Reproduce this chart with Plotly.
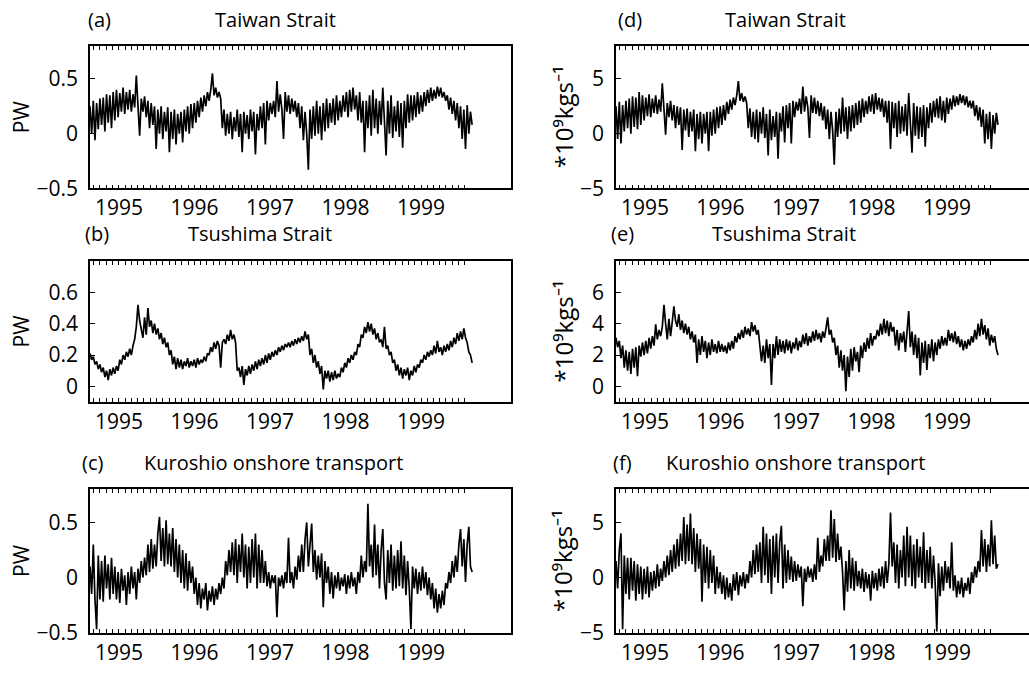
import pandas as pd
import plotly.graph_objects as go

# ---- transports, sampled every 8 days (8 samples per source line) ----
dates = pd.date_range("1994-08-14", periods=232, freq="8D")

# Heat transport, PW
taiwan_heat = [
    0.25, 0.0, 0.3, -0.06, 0.28, 0.04, 0.32, 0.08,
    0.33, 0.02, 0.36, 0.1, 0.35, 0.05, 0.38, 0.12,
    0.4, 0.15, 0.37, 0.2, 0.42, 0.18, 0.38, 0.22,
    0.4, 0.2, 0.36, 0.24, 0.53, 0.25, -0.02, 0.32,
    0.2, 0.34, 0.15, 0.3, 0.05, 0.28, 0.08, 0.25,
    -0.14, 0.22, 0.0, 0.25, -0.05, 0.2, 0.02, 0.24,
    -0.17, 0.2, -0.05, 0.22, -0.1, 0.18, 0.0, 0.2,
    -0.08, 0.22, 0.02, 0.25, 0.0, 0.27, 0.05, 0.28,
    0.1, 0.3, 0.15, 0.33, 0.2, 0.35, 0.25, 0.38,
    0.3, 0.4, 0.55, 0.35, 0.42, 0.33, 0.38, 0.32,
    0.05, 0.22, -0.02, 0.18, 0.0, 0.2, -0.05, 0.15,
    0.02, 0.22, -0.03, 0.18, -0.17, 0.2, 0.0, 0.17,
    -0.05, 0.22, 0.02, 0.2, -0.19, 0.18, 0.03, 0.25,
    0.05, 0.28, -0.1, 0.3, 0.12, 0.28, 0.18, 0.3,
    0.15, 0.48, 0.2, 0.36, 0.22, -0.05, 0.38, 0.2,
    0.35, 0.18, 0.32, 0.2, 0.3, 0.15, 0.28, 0.05,
    0.25, -0.06, 0.2, 0.0, -0.33, 0.22, -0.05, 0.25,
    -0.02, 0.3, 0.0, 0.25, -0.06, 0.28, 0.02, 0.32,
    0.05, 0.28, 0.1, 0.32, 0.08, 0.35, 0.12, 0.3,
    0.15, 0.35, 0.2, 0.38, 0.15, 0.4, 0.2, 0.42,
    0.22, 0.35, 0.12, 0.38, 0.1, 0.3, -0.17, 0.3,
    0.05, 0.35, -0.02, 0.4, 0.05, 0.32, 0.0, 0.3,
    0.08, 0.42, 0.15, -0.2, 0.3, 0.0, 0.35, -0.04,
    0.25, 0.02, 0.3, -0.03, 0.28, -0.13, 0.3, 0.05,
    0.36, 0.1, 0.35, 0.12, 0.35, 0.15, 0.38, 0.18,
    0.35, 0.2, 0.38, 0.25, 0.4, 0.28, 0.42, 0.3,
    0.4, 0.32, 0.43, 0.34, 0.42, 0.33, 0.38, 0.3,
    0.35, 0.22, 0.33, 0.18, 0.3, 0.12, 0.28, 0.05,
    0.25, -0.05, 0.22, -0.14, 0.26, 0.0, 0.2, 0.08,
]

tsushima_heat = [
    0.21, 0.17, 0.19, 0.14, 0.16, 0.11, 0.14, 0.09,
    0.12, 0.06, 0.1, 0.04, 0.11, 0.07, 0.12, 0.08,
    0.13, 0.1, 0.17, 0.14, 0.2, 0.17, 0.22, 0.19,
    0.24, 0.2, 0.26, 0.3, 0.38, 0.52, 0.42, 0.36,
    0.31, 0.44, 0.33, 0.5, 0.38, 0.42, 0.34, 0.4,
    0.33, 0.37, 0.3, 0.34, 0.27, 0.31, 0.25, 0.28,
    0.2, 0.23, 0.14, 0.19, 0.11, 0.18, 0.12, 0.17,
    0.11, 0.16, 0.13, 0.18, 0.12, 0.16, 0.13, 0.17,
    0.12, 0.18, 0.14, 0.17, 0.15, 0.19, 0.16, 0.21,
    0.2, 0.25, 0.22, 0.28, 0.24, 0.29, 0.26, 0.12,
    0.28, 0.3, 0.27, 0.33, 0.29, 0.36, 0.3, 0.33,
    0.28, 0.1, 0.12, 0.06, 0.13, 0.01, 0.11, 0.07,
    0.13, 0.08, 0.14, 0.1, 0.16, 0.11, 0.17, 0.13,
    0.18, 0.14, 0.2, 0.15, 0.21, 0.17, 0.22, 0.19,
    0.23, 0.2, 0.25, 0.22, 0.26, 0.23, 0.27, 0.25,
    0.28, 0.25, 0.29, 0.26, 0.3, 0.27, 0.31, 0.28,
    0.32, 0.29, 0.35, 0.3, 0.33, 0.2, 0.24, 0.15,
    0.2, 0.12, 0.16, 0.08, 0.13, -0.02, 0.1, 0.05,
    0.1, 0.03, 0.09, 0.04, 0.1, 0.05, 0.08, 0.06,
    0.12, 0.09, 0.15, 0.12, 0.18, 0.15, 0.2, 0.17,
    0.22, 0.2, 0.27, 0.25, 0.33, 0.31, 0.38, 0.34,
    0.41, 0.35, 0.4, 0.33, 0.37, 0.3, 0.34, 0.28,
    0.3, 0.25, 0.38, 0.24, 0.26, 0.2, 0.22, 0.15,
    0.17, 0.1, 0.14, 0.07, 0.12, 0.05, 0.11, 0.07,
    0.12, 0.04, 0.1, 0.07, 0.13, 0.09, 0.14, 0.12,
    0.17, 0.15, 0.2, 0.17, 0.22, 0.19, 0.23, 0.2,
    0.26, 0.21, 0.29, 0.22, 0.25, 0.2, 0.26, 0.22,
    0.27, 0.23, 0.29, 0.25, 0.31, 0.27, 0.34, 0.29,
    0.35, 0.3, 0.37, 0.31, 0.28, 0.22, 0.2, 0.15,
]

kuroshio_heat = [
    0.1, -0.15, 0.3, -0.2, -0.47, 0.2, -0.2, 0.15,
    -0.22, 0.2, -0.1, 0.12, -0.2, 0.18, -0.15, 0.1,
    -0.2, 0.05, -0.23, 0.08, -0.12, 0.02, -0.25, 0.05,
    -0.15, 0.1, -0.1, 0.05, -0.2, 0.08, -0.05, 0.15,
    0.0, 0.18, 0.02, 0.3, 0.05, 0.35, 0.08, 0.3,
    0.1, 0.4, 0.55, 0.15, 0.45, 0.1, 0.52, 0.12,
    0.4, 0.1, 0.45, 0.05, 0.35, 0.0, 0.3, -0.05,
    0.25, -0.1, 0.22, -0.12, 0.15, -0.05, 0.1, -0.15,
    0.0, -0.25, -0.05, -0.28, -0.1, -0.2, -0.05, -0.3,
    -0.12, -0.22, -0.08, -0.25, -0.1, -0.2, -0.05, -0.15,
    0.0, -0.1, 0.15, 0.02, 0.25, 0.05, 0.32, 0.02,
    0.35, -0.05, 0.3, 0.05, 0.4, 0.0, 0.3, -0.1,
    0.28, -0.05, 0.35, 0.0, 0.4, -0.1, 0.3, -0.05,
    0.25, -0.05, 0.15, -0.08, 0.05, -0.1, 0.02, -0.05,
    0.02, -0.36, 0.0, -0.08, 0.02, -0.1, 0.05, -0.05,
    0.36, -0.05, 0.05, -0.1, 0.1, -0.02, 0.2, 0.05,
    0.3, 0.05, 0.35, 0.5, 0.1, 0.3, 0.49, 0.05,
    0.25, -0.02, 0.2, 0.0, 0.22, -0.27, 0.15, -0.05,
    0.1, -0.15, 0.05, -0.19, 0.02, -0.1, 0.05, -0.12,
    0.0, -0.08, 0.03, -0.15, 0.02, -0.1, 0.05, -0.08,
    0.0, -0.15, 0.05, -0.05, 0.2, 0.0, 0.15, 0.05,
    0.67, 0.1, 0.3, 0.0, 0.48, 0.02, 0.3, -0.1,
    0.25, 0.44, -0.05, -0.2, 0.25, -0.05, 0.3, -0.12,
    0.2, -0.1, 0.25, -0.08, 0.33, -0.1, 0.2, -0.16,
    0.15, -0.1, -0.47, 0.1, -0.1, 0.08, -0.15, 0.05,
    -0.12, 0.1, -0.1, 0.05, -0.16, 0.0, -0.2, -0.05,
    -0.28, -0.1, -0.32, -0.15, -0.28, -0.12, -0.25, -0.05,
    -0.1, 0.05, -0.05, 0.15, 0.0, 0.2, 0.05, 0.3,
    0.44, 0.1, 0.35, -0.04, 0.3, 0.46, 0.1, 0.05,
]

# Volume transport, 10^9 kg/s
taiwan_vol = [
    2.5, -0.5, 2.9, -0.9, 2.6, 0.2, 3.0, 0.5,
    3.2, 0.0, 3.4, 0.6, 3.3, 0.4, 3.8, 0.8,
    3.5, 1.2, 3.3, 1.6, 3.6, 1.5, 3.2, 1.9,
    3.5, 1.8, 3.1, 2.0, 4.6, 2.2, -0.1, 2.8,
    1.5, 3.0, 1.2, 2.6, 0.5, 2.5, 0.8, 2.4,
    -1.5, 2.2, 0.3, 2.3, -0.3, 2.0, 0.2, 2.2,
    -1.6, 1.8, -0.5, 2.0, -0.9, 1.8, 0.0, 2.0,
    -1.6, 2.0, -0.2, 2.2, 0.0, 2.4, 0.5, 2.5,
    0.8, 2.6, 1.2, 2.9, 1.8, 3.1, 2.2, 3.3,
    2.6, 3.5, 4.8, 3.0, 3.7, 2.9, 3.4, 2.8,
    0.5, 2.3, -0.3, 2.0, -0.5, 2.2, -0.8, 2.0,
    0.0, 2.4, -0.4, 1.8, -2.0, 2.2, -0.6, 1.6,
    -0.3, 2.0, -2.3, 1.9, 0.2, 2.5, -0.8, 2.6,
    0.5, 2.8, -0.9, 3.0, 1.5, 2.9, 2.1, 3.2,
    1.8, 4.3, 2.0, 3.4, 2.4, -0.4, 3.5, 1.9,
    3.3, 1.8, 3.0, 1.6, 2.8, 1.2, 2.5, 0.4,
    2.2, -0.5, 2.0, 0.3, -2.85, 2.0, -0.3, 2.3,
    0.0, 3.3, 0.2, 2.4, -0.5, 2.5, 0.2, 2.6,
    0.5, 2.8, 0.8, 3.0, 1.0, 3.2, 1.5, 3.0,
    1.8, 3.4, 2.0, 3.6, 1.8, 3.7, 2.2, 3.3,
    2.0, 3.2, 1.5, 3.0, 1.0, 3.0, -1.4, 2.9,
    0.5, 2.8, -0.3, 3.0, 0.0, 2.5, 0.2, 2.7,
    -0.2, 3.7, 0.5, -1.75, 2.8, -0.2, 2.5, -0.5,
    2.4, -0.3, 2.6, -1.2, 2.4, 0.5, 2.8, 1.0,
    3.0, 1.5, 3.2, 1.4, 3.4, 1.2, 3.0, 1.0,
    3.3, 1.8, 3.2, 2.2, 3.5, 2.5, 3.4, 2.6,
    3.6, 2.8, 3.5, 2.6, 3.4, 2.4, 3.0, 2.3,
    3.0, 1.6, 2.6, 1.2, 2.4, 0.6, 2.2, -0.9,
    1.8, -0.5, 2.0, -1.4, 1.7, 0.0, 1.9, 0.8,
]

tsushima_vol = [
    3.1, 2.5, 2.9, 1.8, 2.6, 1.2, 2.3, 1.0,
    2.2, 0.8, 2.4, 1.2, 2.5, 0.65, 2.6, 1.9,
    2.8, 2.0, 2.9, 2.1, 3.1, 2.4, 3.2, 2.6,
    3.95, 3.0, 3.6, 3.2, 3.8, 5.2, 4.0, 3.0,
    4.3, 3.2, 4.1, 5.1, 4.2, 3.8, 4.6, 3.6,
    4.2, 3.4, 4.0, 3.3, 3.8, 3.0, 3.5, 2.8,
    3.3, 1.5, 3.0, 2.0, 3.2, 2.2, 2.9, 1.8,
    2.8, 2.0, 3.0, 2.2, 2.7, 2.1, 2.9, 2.2,
    2.7, 2.2, 2.6, 2.1, 2.8, 2.3, 2.9, 2.4,
    3.2, 2.8, 3.4, 3.0, 3.6, 3.1, 3.8, 3.3,
    3.7, 3.2, 4.1, 3.5, 3.9, 3.3, 3.6, 2.4,
    1.6, 2.6, 1.5, 3.0, 1.8, 2.7, 0.1, 2.7,
    1.8, 3.2, 2.0, 3.0, 2.2, 2.9, 2.1, 3.0,
    2.3, 2.9, 2.1, 2.8, 2.4, 3.1, 2.3, 2.9,
    2.5, 3.3, 2.7, 3.4, 2.6, 3.2, 2.8, 3.5,
    2.9, 3.6, 3.0, 3.4, 2.8, 3.5, 3.1, 3.7,
    4.4, 3.3, 3.6, 2.8, 3.1, 2.0, 2.6, 1.2,
    2.3, 1.0, 2.0, -0.3, 1.9, 0.6, 2.4, 1.0,
    2.5, 1.6, 2.2, 0.9, 2.6, 1.8, 2.8, 2.2,
    3.1, 2.4, 3.4, 2.6, 3.2, 3.0, 3.6, 3.2,
    4.0, 3.3, 4.3, 3.4, 4.2, 3.2, 4.1, 3.5,
    3.8, 2.6, 3.6, 2.3, 3.4, 2.8, 3.5, 2.2,
    3.3, 4.8, 2.5, 3.5, 2.0, 3.3, 1.8, 3.1,
    0.7, 2.8, 1.5, 2.9, 1.05, 2.7, 1.8, 3.0,
    1.6, 2.8, 2.0, 3.0, 2.4, 3.2, 2.6, 3.1,
    2.6, 3.6, 2.9, 3.4, 2.8, 3.5, 2.7, 3.2,
    2.5, 3.0, 2.3, 2.9, 2.4, 3.0, 2.6, 3.2,
    2.8, 3.6, 3.0, 4.0, 3.2, 4.3, 3.3, 3.9,
    3.0, 3.7, 2.6, 3.3, 2.8, 3.2, 2.4, 2.0,
]

kuroshio_vol = [
    1.5, -1.0, 2.5, 4.0, -4.7, 2.0, -1.5, 1.8,
    -2.0, 1.8, -1.2, 1.5, -2.1, 1.2, -1.5, 1.0,
    -2.0, 0.8, -1.5, 1.0, -1.8, 0.5, -1.2, 0.6,
    -1.0, 1.2, -0.8, 0.8, -0.3, 1.5, 0.0, 2.0,
    0.2, 2.5, 0.5, 3.0, 0.8, 3.5, 1.0, 4.0,
    1.5, 5.5, 1.2, 4.8, 1.5, 5.8, 1.2, 4.5,
    0.5, 4.0, 0.8, 3.5, -2.2, 3.0, -0.5, 2.8,
    -1.0, 2.5, -0.5, 2.0, -1.5, 1.0, -1.0, 0.5,
    -1.5, 0.2, -2.0, 0.0, -1.8, -0.5, -2.1, 0.3,
    -1.2, 0.5, -1.6, 0.2, -0.8, 0.5, -1.0, 0.3,
    -0.5, 1.5, 0.0, 2.5, 0.3, 3.0, 0.5, 3.2,
    -0.5, 4.6, 0.2, 4.0, -0.5, 3.5, -1.5, 3.8,
    0.0, 4.0, -0.5, 3.2, 4.7, -1.0, 3.0, -0.5,
    2.5, -0.2, 1.9, -0.4, 1.5, -0.3, 1.2, 0.0,
    1.0, -2.6, 0.8, -0.4, 1.0, 0.0, 0.8, -0.4,
    1.2, -0.2, 3.6, 0.5, 2.0, 1.0, 3.5, 1.5,
    3.8, 1.5, 6.1, 1.8, 5.3, 1.4, 4.0, 1.6,
    2.8, 0.5, -3.0, 1.5, -1.3, 2.5, -1.0, 1.8,
    -1.2, 1.5, -0.8, 0.6, -1.0, 0.8, -1.3, 0.5,
    -1.0, 0.3, -2.1, 0.6, -1.0, 0.4, -1.2, 0.8,
    -0.8, 1.0, -1.0, 1.5, -0.5, 1.2, 5.9, 1.0,
    3.2, -0.5, 3.0, -1.0, 2.5, 0.0, 3.8, -0.8,
    4.6, 0.0, 3.8, -0.8, 3.0, -1.0, 3.5, 0.0,
    2.8, -0.5, 4.1, -1.0, 2.5, -0.5, 2.8, -1.0,
    2.0, -0.5, -4.9, 1.3, -1.7, 1.0, -1.2, 1.5,
    -0.5, 1.0, -1.0, 3.2, -1.2, 0.2, -1.8, -0.3,
    -1.5, 0.0, -1.8, -0.5, -1.2, 0.0, -1.5, 0.5,
    -0.5, 1.0, 0.0, 1.5, 0.5, 4.3, 1.0, 3.5,
    0.5, 3.0, 1.0, 5.2, 1.2, 3.8, 0.8, 1.2,
]

# y-axis ticks per panel
pw_ticks = [-0.5, 0, 0.5]
pw_ticktext = ["\u22120.5", "0", "0.5"]
tsu_pw_ticks = [0, 0.2, 0.4, 0.6]
tsu_pw_ticktext = ["0", "0.2", "0.4", "0.6"]
vol_ticks = [-5, 0, 5]
vol_ticktext = ["\u22125", "0", "5"]
tsu_vol_ticks = [0, 2, 4, 6]
tsu_vol_ticktext = ["0", "2", "4", "6"]

# monthly ticks, labelled every January
months = pd.date_range("1994-09-01", "1999-08-01", freq="MS")
month_text = [str(m.year) if m.month == 1 else "" for m in months]

W, H = 1029, 675
FONT = "Open Sans"


def px(x):
    return x / W


def py(y):
    return 1 - y / H


# plot-area boxes in pixels: (left, right) and (top, bottom)
left_cols = (90, 511)
right_cols = (616, 1029)
rows = [(47, 192), (266, 410), (499, 645)]

panels = [
    # series, column, row, y-range, tickvals, ticktext
    (taiwan_heat, left_cols, rows[0], [-0.5, 0.8], pw_ticks, pw_ticktext),
    (tsushima_heat, left_cols, rows[1], [-0.1, 0.8], tsu_pw_ticks, tsu_pw_ticktext),
    (kuroshio_heat, left_cols, rows[2], [-0.5, 0.8], pw_ticks, pw_ticktext),
    (taiwan_vol, right_cols, rows[0], [-5, 8], vol_ticks, vol_ticktext),
    (tsushima_vol, right_cols, rows[1], [-1, 8], tsu_vol_ticks, tsu_vol_ticktext),
    (kuroshio_vol, right_cols, rows[2], [-5, 8], vol_ticks, vol_ticktext),
]

fig = go.Figure()
layout = {}
for k, (vals, cols, row, yr, tv, tt) in enumerate(panels, start=1):
    sfx = "" if k == 1 else str(k)
    fig.add_trace(go.Scatter(
        x=dates, y=vals, mode="lines",
        line=dict(color="black", width=1.7),
        xaxis="x" + sfx, yaxis="y" + sfx, showlegend=False,
        hoverinfo="skip",
    ))
    is_right = cols is right_cols
    x_end = "2000-02-02" if is_right else "2000-03-11"
    layout["xaxis" + sfx] = dict(
        domain=[px(cols[0]), px(cols[1])],
        anchor="y" + sfx,
        type="date",
        range=["1994-08-14", x_end],
        tickmode="array", tickvals=list(months), ticktext=month_text,
        ticks="inside", ticklen=4, tickwidth=1, tickcolor="black",
        showline=True, linecolor="black", linewidth=1.5,
        mirror="ticks", showgrid=False, zeroline=False,
        tickfont=dict(family=FONT, size=21, color="black"),
        fixedrange=True,
    )
    layout["yaxis" + sfx] = dict(
        domain=[py(row[1]), py(row[0])],
        anchor="x" + sfx,
        range=yr,
        tickmode="array", tickvals=tv, ticktext=tt,
        ticks="inside", ticklen=5, tickwidth=1, tickcolor="black",
        showline=True, linecolor="black", linewidth=1.5,
        mirror=(not is_right), showgrid=False, zeroline=False,
        tickfont=dict(family=FONT, size=21, color="black"),
        ticklabelstandoff=6,
        fixedrange=True,
    )

titles = [
    ("(a)", 99, 20), ("Taiwan Strait", 275, 20),
    ("(b)", 97, 238), ("Tsushima Strait", 260, 238),
    ("(c)", 92, 472), ("Kuroshio onshore transport", 273, 472),
    ("(d)", 630, 20), ("Taiwan Strait", 785, 20),
    ("(e)", 622, 238), ("Tsushima Strait", 784, 238),
    ("(f)", 622, 472), ("Kuroshio onshore transport", 795, 472),
]
annotations = [
    dict(text=t, x=px(x), y=py(y), xref="paper", yref="paper",
         xanchor="center", yanchor="middle", showarrow=False,
         font=dict(family=FONT, size=20, color="black"))
    for t, x, y in titles
]

unit_labels = [("PW", 21, row, 21) for row in rows] + [
    ("*10\u2079kgs\u207b\u00b9", 563, row, 24) for row in rows
]
for t, x, row, size in unit_labels:
    annotations.append(dict(
        text=t, x=px(x), y=py((row[0] + row[1]) / 2),
        xref="paper", yref="paper", xanchor="center", yanchor="middle",
        textangle=-90, showarrow=False,
        font=dict(family=FONT, size=size, color="black"),
    ))

fig.update_layout(
    width=W, height=H,
    margin=dict(l=0, r=0, t=0, b=0),
    paper_bgcolor="white", plot_bgcolor="white",
    annotations=annotations,
    **layout,
)

fig.write_html("out.html", config={"displayModeBar": False})
